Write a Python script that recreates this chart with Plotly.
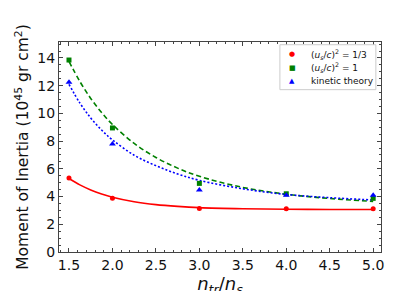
import plotly.graph_objects as go

# Data points
x_pts = [1.5, 2.0, 3.0, 4.0, 5.0]
red_pts = [5.33, 3.87, 3.13, 3.12, 3.12]
green_pts = [13.85, 8.95, 4.95, 4.2, 3.87]
blue_pts = [12.25, 7.8, 4.47, 4.1, 4.1]

# Fit curves
x_fit = [1.5, 1.625, 1.75, 1.875, 2.0, 2.25, 2.5, 2.75, 3.0, 3.5, 4.0, 4.5, 5.0]
red_fit = [5.3, 4.84, 4.48, 4.19, 3.955, 3.63, 3.42, 3.29, 3.2, 3.12, 3.085, 3.07, 3.065]
green_fit = [13.75, 12.3, 11.08, 10.06, 9.2, 7.83, 6.82, 6.05, 5.46, 4.66, 4.17, 3.86, 3.65]
blue_fit = [12.1, 10.75, 9.67, 8.8, 8.09, 6.98, 6.23, 5.63, 5.17, 4.56, 4.15, 3.92, 3.75]

labels = ["(<i>u</i><sub><i>s</i></sub>/<i>c</i>)<sup>2</sup> = 1/3",
          "(<i>u</i><sub><i>s</i></sub>/<i>c</i>)<sup>2</sup> = 1",
          "kinetic theory"]
legend_glyphs = ["●", "■", "▲"]

RED, GREEN, BLUE = "#ff0000", "#008000", "#0000ff"
colors = [RED, GREEN, BLUE]

fig = go.Figure()
fig.add_trace(go.Scatter(x=x_fit, y=red_fit, mode="lines", line=dict(color=RED, width=1.6, shape="spline", smoothing=1), showlegend=False))
fig.add_trace(go.Scatter(x=x_fit, y=green_fit, mode="lines", line=dict(color=GREEN, width=1.6, dash="5px,3px", shape="spline", smoothing=1), showlegend=False))
fig.add_trace(go.Scatter(x=x_fit, y=blue_fit, mode="lines", line=dict(color=BLUE, width=1.6, dash="2px,2px", shape="spline", smoothing=1), showlegend=False))
fig.add_trace(go.Scatter(x=x_pts, y=red_pts, mode="markers", marker=dict(color=RED, size=5, symbol="circle"), name=labels[0], showlegend=False))
fig.add_trace(go.Scatter(x=x_pts, y=green_pts, mode="markers", marker=dict(color=GREEN, size=5, symbol="square"), name=labels[1], showlegend=False))
fig.add_trace(go.Scatter(x=x_pts, y=blue_pts, mode="markers", marker=dict(color=BLUE, size=6, symbol="triangle-up"), name=labels[2], showlegend=False))

axis_common = dict(
    showgrid=False, zeroline=False, showline=True, linecolor="#444", linewidth=1,
    mirror="allticks", ticks="inside", ticklen=4, tickwidth=1, tickcolor="#444",
    tickfont=dict(family="DejaVu Sans", size=14, color="#111"),
)

# Compact legend (box, glyphs, labels)
fig.add_shape(type="rect", xref="paper", yref="paper", x0=0.686, x1=0.984, y0=0.773, y1=0.987,
              line=dict(color="#cccccc", width=1), fillcolor="white", layer="above")
rows_y = [0.942, 0.878, 0.813]
for lab, gl, col, yy in zip(labels, legend_glyphs, colors, rows_y):
    fig.add_annotation(xref="paper", yref="paper", x=0.724, y=yy, text=gl, showarrow=False,
                       font=dict(size=7, color=col, family="DejaVu Sans"), xanchor="center", yanchor="middle")
    fig.add_annotation(xref="paper", yref="paper", x=0.7764, y=yy, text=lab, showarrow=False,
                       font=dict(size=9, color="#111", family="DejaVu Sans"), xanchor="left", yanchor="middle")

fig.update_layout(
    width=415, height=291,
    margin=dict(l=51, r=42, t=34, b=32),
    paper_bgcolor="white", plot_bgcolor="white",
    font=dict(family="DejaVu Sans", color="#111"),
    showlegend=False,
    xaxis=dict(
        range=[1.385, 5.09], tickvals=[1.5, 2.0, 2.5, 3.0, 3.5, 4.0, 4.5, 5.0],
        ticktext=["1.5", "2.0", "2.5", "3.0", "3.5", "4.0", "4.5", "5.0"],
        title=dict(text="<i>n</i><sub><i>tr</i></sub>/<i>n</i><sub><i>s</i></sub>", font=dict(size=18), standoff=2),
        minor=dict(dtick=0.1, tick0=1.5, ticks="inside", ticklen=2, tickcolor="#444"),
        **axis_common,
    ),
    yaxis=dict(
        range=[0, 15.15], tickvals=[0, 2, 4, 6, 8, 10, 12, 14],
        title=dict(text="Moment of Inertia (10<sup>45</sup> gr cm<sup>2</sup>)", font=dict(size=15.5), standoff=4),
        minor=dict(dtick=0.5, tick0=0, ticks="inside", ticklen=2, tickcolor="#444"),
        **axis_common,
    ),
)

fig.write_html("out.html")
